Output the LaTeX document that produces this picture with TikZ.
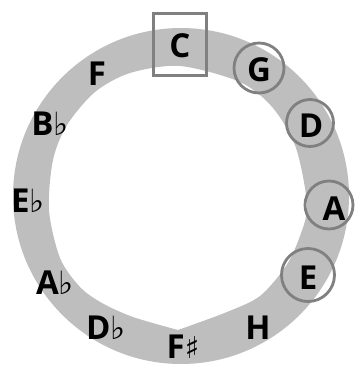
\documentclass[tikz,border=0pt]{standalone}
\usepackage{fontspec}
\setmainfont{Open Sans}
\newfontfamily\symfont{DejaVu Sans}
\definecolor{ringgray}{HTML}{BEBEBE}
\definecolor{markgray}{HTML}{808080}
\newcommand{\flt}{{\symfont\fontsize{32pt}{32pt}\selectfont\char"266D}}
\newcommand{\shp}{{\symfont\fontsize{30pt}{30pt}\selectfont\char"266F}}
\begin{document}
\begin{tikzpicture}[x=1pt,y=-1pt,
  note/.style={font=\fontsize{33pt}{33pt}\selectfont\bfseries, inner sep=0pt, text=black},
  ringmark/.style={draw=markgray, line width=2.8pt, circle, minimum size=50pt, inner sep=0pt},
  boxmark/.style={draw=markgray, line width=2.8pt, rectangle, minimum width=53pt, minimum height=62pt, inner sep=0pt}]
\useasboundingbox (0,0) rectangle (357,365);
% ring
\fill[ringgray, even odd rule] (181,196) circle[radius=168]
  plot[smooth, tension=0.5] coordinates {(178,330) (227,312) (260,296) (286,266) (300,236) (307,205) (296,148) (273,108) (240,82) (180,66) (130,73) (95,92) (67,125) (53,160) (49,210) (60,258) (80,287) (102,303) (133,317) (178,330)} -- cycle;
% markers
\node[boxmark] (sq) at (180,44.5) {};
\node[ringmark] (cg) at (259,68) {};
\node[ringmark, minimum size=47pt] (cd) at (310,123) {};
\node[ringmark, minimum size=48pt] (ca) at (329,205) {};
\node[ringmark, minimum size=53pt] (ce) at (308,275) {};
% labels
\node[note] (C) at (180,46) {C};
\node[note] (G) at (259,70) {G};
\node[note] (D) at (311,126) {D};
\node[note] (A) at (334,209) {A};
\node[note] (E) at (308,278) {E};
\node[note] (H) at (258,328) {H};
\node[note] (Fs) at (183,347) {F\shp};
\node[note] (Db) at (106,328) {D\flt};
\node[note] (Ab) at (55,283) {A\flt};
\node[note] (Eb) at (28,201) {E\flt};
\node[note] (Bb) at (50,124) {B\flt};
\node[note] (F) at (97,74) {F};
\end{tikzpicture}
\end{document}
